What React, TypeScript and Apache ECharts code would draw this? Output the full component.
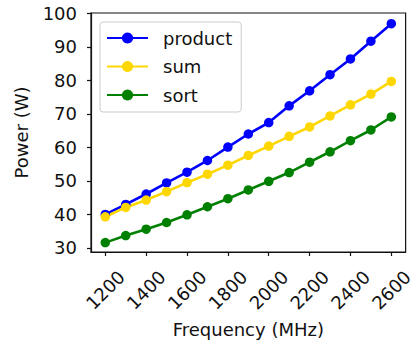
import React, { useEffect, useRef } from "react";
import * as echarts from "echarts";

const frequencies = [1200, 1300, 1400, 1500, 1600, 1700, 1800, 1900, 2000, 2100, 2200, 2300, 2400, 2500, 2600];
const productPower = [40.0, 43.0, 46.1, 49.4, 52.6, 56.1, 60.1, 64.0, 67.4, 72.4, 76.9, 81.7, 86.4, 91.7, 96.9];
const sumPower = [39.3, 42.1, 44.3, 46.8, 49.5, 52.0, 54.7, 57.6, 60.4, 63.3, 66.1, 69.4, 72.7, 75.9, 79.7];
const sortPower = [31.6, 33.7, 35.6, 37.6, 39.9, 42.3, 44.7, 47.3, 49.9, 52.5, 55.6, 58.7, 62.0, 65.2, 69.1];
const xTicks = [1200, 1400, 1600, 1800, 2000, 2200, 2400, 2600];
const yTicks = [30, 40, 50, 60, 70, 80, 90, 100];

const FONT = "DejaVu Sans";
const TXT = "#111111";
const FS = 18;

export default function App() {
  const ref = useRef<HTMLDivElement>(null);
  useEffect(() => {
    if (!ref.current) return;
    const chart = echarts.init(ref.current, undefined, { renderer: "svg" });
    const mk = (name: string, data: number[], color: string) => ({
      name,
      type: "line",
      data: frequencies.map((f, i) => [f, data[i]]),
      symbol: "circle",
      symbolSize: 9.5,
      itemStyle: { color },
      lineStyle: { color, width: 2.6 },
      z: 3,
    });
    chart.setOption({
      animation: false,
      textStyle: { fontFamily: FONT },
      grid: { left: 91, right: 6, top: 13, bottom: 91, show: true, borderColor: TXT, borderWidth: 1.2, containLabel: false },
      legend: {
        left: 100,
        top: 22,
        orient: "vertical",
        itemWidth: 41,
        itemHeight: 14,
        itemGap: 8.5,
        padding: [6, 9, 7, 6],
        backgroundColor: "rgba(255,255,255,0.8)",
        borderColor: "#cccccc",
        borderWidth: 1,
        borderRadius: 3,
        textStyle: { fontFamily: FONT, fontSize: FS, color: TXT, lineHeight: 20, padding: [0, 0, 0, 10] },
        data: ["product", "sum", "sort"],
      },
      xAxis: {
        type: "value",
        min: 1130,
        max: 2670,
        name: "Frequency (MHz)",
        nameLocation: "middle",
        nameGap: 77,
        nameTextStyle: { fontFamily: FONT, fontSize: FS, color: TXT, verticalAlign: "middle" },
        splitLine: { show: false },
        axisLine: { show: true, onZero: false, lineStyle: { color: TXT, width: 1.2 } },
        axisTick: { show: true, length: 4, lineStyle: { color: TXT, width: 1.2 }, customValues: xTicks },
        axisLabel: {
          fontFamily: FONT,
          fontSize: FS,
          color: TXT,
          rotate: 45,
          align: "center",
          verticalAlign: "middle",
          margin: 38,
          customValues: xTicks,
          formatter: (v: number) => String(v),
        },
      },
      yAxis: {
        type: "value",
        min: 28.8,
        max: 100.1,
        name: "Power (W)",
        nameLocation: "middle",
        nameGap: 70,
        nameTextStyle: { fontFamily: FONT, fontSize: FS, color: TXT, verticalAlign: "middle" },
        splitLine: { show: false },
        axisLine: { show: true, onZero: false, lineStyle: { color: TXT, width: 1.2 } },
        axisTick: { show: true, length: 4, lineStyle: { color: TXT, width: 1.2 }, customValues: yTicks },
        axisLabel: { fontFamily: FONT, fontSize: FS, color: TXT, margin: 14, customValues: yTicks, formatter: (v: number) => String(v) },
      },
      series: [mk("product", productPower, "#0000ff"), mk("sum", sumPower, "#ffd700"), mk("sort", sortPower, "#008000")],
    });
    return () => chart.dispose();
  }, []);
  return <div ref={ref} style={{ width: 416, height: 343, position: "absolute", left: 0, top: 0 }} />;
}
